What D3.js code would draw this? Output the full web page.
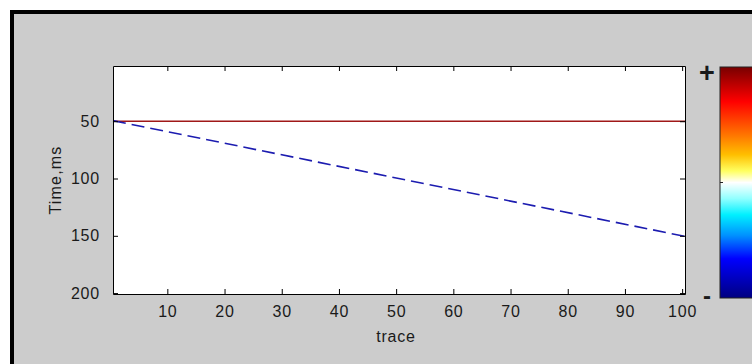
<!DOCTYPE html>
<html>
<head>
<meta charset="utf-8">
<script src="https://cdn.jsdelivr.net/npm/d3@7"></script>
<style>
  body { margin: 0; background: #fff; }
  text { font-family: "Liberation Sans", Arial, sans-serif; fill: #1a1a1a; }
  .axis path, .axis line { stroke: #000; }
</style>
</head>
<body>
<div class="chart"></div>
<script>
// tick labels
var xTicks = [10, 20, 30, 40, 50, 60, 70, 80, 90, 100];
var yTicks = [50, 100, 150, 200];

// events (trace, time in ms)
var flatTrace = [0.5, 100.5];
var flatTime = [50, 50];
var dipTrace = [0.5, 100.5];
var dipTime = [49.5, 150.5];

// colour bar, top (+) to bottom (-)
var cbarOffsets = [0, 0.15, 0.3, 0.38, 0.45, 0.5, 0.57, 0.64, 0.73, 0.83, 1];
var cbarColors = ["#780000", "#ff0000", "#ff7a00", "#ffbf00", "#ffff60", "#ffffff",
                  "#90ffff", "#00f0ff", "#0090ff", "#0000ff", "#000080"];

var W = 752, H = 364;
var margin = {top: 66, left: 113},
    width = 572, height = 228;

var svg = d3.select(".chart").append("svg")
    .attr("width", W)
    .attr("height", H);

// figure background with frame
svg.append("rect")
    .attr("x", 12).attr("y", 12)
    .attr("width", W).attr("height", H)
    .attr("fill", "#cccccc")
    .attr("stroke", "#000")
    .attr("stroke-width", 4);

var g = svg.append("g")
    .attr("transform", "translate(" + margin.left + "," + margin.top + ")");

var x = d3.scaleLinear().domain([0.5, 100.5]).range([0, width]);
var y = d3.scaleLinear().domain([1.8, 200.8]).range([0, height]);

g.append("rect")
    .attr("width", width).attr("height", height)
    .attr("fill", "#fff");

// events
var line = d3.line()
    .x(function(d) { return x(d[0]); })
    .y(function(d) { return y(d[1]); });

g.append("path")
    .datum(d3.zip(flatTrace, flatTime))
    .attr("d", line)
    .attr("fill", "none")
    .attr("stroke", "#a01818")
    .attr("stroke-width", 1.6);

g.append("path")
    .datum(d3.zip(dipTrace, dipTime))
    .attr("d", line)
    .attr("fill", "none")
    .attr("stroke", "#1c1cb0")
    .attr("stroke-width", 1.6)
    .attr("stroke-dasharray", "13,6");

// axes, ticks inside like matlab
g.append("g")
    .attr("class", "axis")
    .attr("transform", "translate(0," + height + ")")
    .call(d3.axisBottom(x).tickValues(xTicks).tickSizeInner(-5).tickSizeOuter(0).tickPadding(12));

g.append("g")
    .attr("class", "axis")
    .call(d3.axisTop(x).tickValues(xTicks).tickSizeInner(-5).tickSizeOuter(0).tickFormat(""));

g.append("g")
    .attr("class", "axis")
    .call(d3.axisLeft(y).tickValues(yTicks).tickSizeInner(-5).tickSizeOuter(0).tickPadding(13));

g.append("g")
    .attr("class", "axis")
    .attr("transform", "translate(" + width + ",0)")
    .call(d3.axisRight(y).tickValues(yTicks).tickSizeInner(-5).tickSizeOuter(0).tickFormat(""));

g.selectAll(".axis text")
    .attr("font-family", "Liberation Sans, Arial, sans-serif")
    .attr("font-size", 16)
    .attr("letter-spacing", 0.8)
    .attr("fill", "#1a1a1a");

// axis labels
g.append("text")
    .attr("x", 283).attr("y", 276)
    .attr("text-anchor", "middle")
    .attr("font-size", 16)
    .attr("letter-spacing", 0.8)
    .text("trace");

g.append("text")
    .attr("transform", "translate(-52," + (height / 2) + ") rotate(-90)")
    .attr("text-anchor", "middle")
    .attr("font-size", 16)
    .attr("letter-spacing", 1.2)
    .text("Time,ms");

// colour bar
var grad = svg.append("defs").append("linearGradient")
    .attr("id", "cbar")
    .attr("x1", 0).attr("y1", 0).attr("x2", 0).attr("y2", 1);

grad.selectAll("stop")
    .data(cbarOffsets)
    .enter().append("stop")
    .attr("offset", function(d) { return d; })
    .attr("stop-color", function(d, i) { return cbarColors[i]; });

var cb = svg.append("g").attr("transform", "translate(720,67)");

cb.append("rect")
    .attr("width", 40).attr("height", 231)
    .attr("fill", "url(#cbar)")
    .attr("stroke", "#222")
    .attr("stroke-width", 1);

cb.append("line")
    .attr("x1", 0).attr("x2", 3)
    .attr("y1", 115.5).attr("y2", 115.5)
    .attr("stroke", "#222");

cb.append("text")
    .attr("x", -13).attr("y", 15)
    .attr("text-anchor", "middle")
    .attr("font-family", "DejaVu Sans")
    .attr("font-size", 27)
    .attr("font-weight", "bold")
    .attr("fill", "#000")
    .text("+");

cb.append("text")
    .attr("x", -13).attr("y", 237)
    .attr("text-anchor", "middle")
    .attr("font-family", "DejaVu Sans")
    .attr("font-size", 24)
    .attr("font-weight", "bold")
    .attr("fill", "#000")
    .text("-");
</script>
</body>
</html>
